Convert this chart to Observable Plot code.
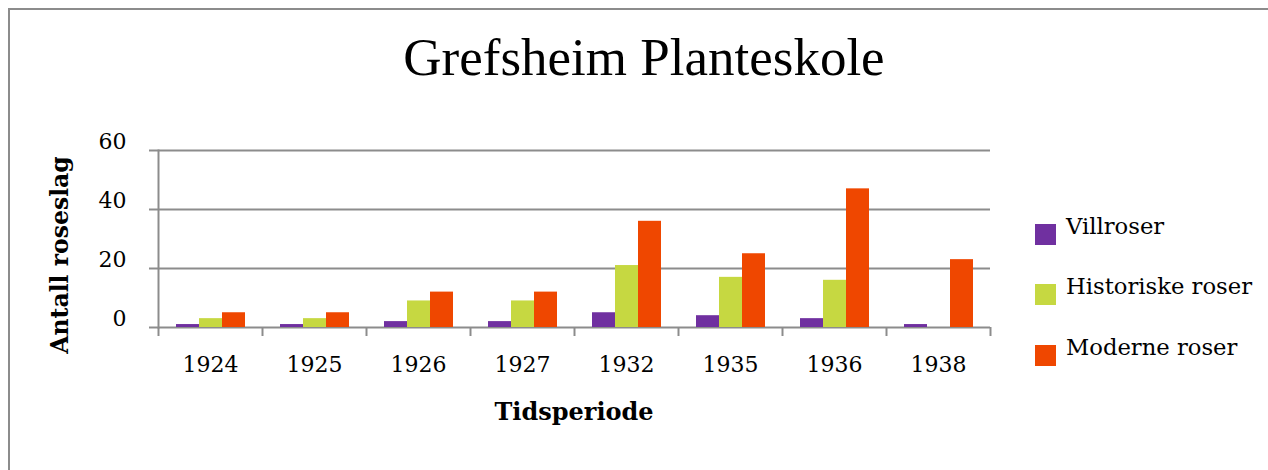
<!DOCTYPE html>
<html>
<head>
<meta charset="utf-8">
<script src="https://cdn.jsdelivr.net/npm/d3@7"></script>
<script src="https://cdn.jsdelivr.net/npm/@observablehq/plot@0.6"></script>
<style>
  html, body { margin: 0; padding: 0; background: #fff; }
  #wrap { position: relative; width: 1268px; height: 470px; overflow: hidden; background: #fff; }
  #border { position: absolute; left: 8px; top: 8px; width: 1400px; height: 600px;
            border-left: 2px solid #8c8c8c; border-top: 2px solid #8c8c8c; }
  #chart { position: absolute; left: 0; top: 0; }
  .txt { position: absolute; white-space: nowrap; color: #000; }
  #title { left: 0; width: 1288px; top: 31px; text-align: center;
           font-family: "Liberation Serif", serif; font-size: 53px; line-height: 53px; }
  #ylabel { left: 61px; top: 255px; transform: translate(-50%, -50%) rotate(-90deg);
            font-family: "DejaVu Serif", serif; font-weight: bold; font-size: 23.5px; line-height: 23.5px; }
  #xlabel { left: 574px; top: 400px; transform: translateX(-50%);
            font-family: "DejaVu Serif", serif; font-weight: bold; font-size: 24px; line-height: 24px; }
  .sw { position: absolute; width: 21px; height: 21px; left: 1035px; }
  .lt { left: 1066px; font-family: "DejaVu Serif", serif; font-size: 22.7px; line-height: 22.7px; }
</style>
</head>
<body>
<div id="wrap">
  <div id="border"></div>
  <div id="chart"></div>
  <div id="title" class="txt">Grefsheim Planteskole</div>
  <div id="ylabel" class="txt">Antall roseslag</div>
  <div id="xlabel" class="txt">Tidsperiode</div>
  <div id="legend"></div>
</div>
<script>
// ---- data ----
const years = ["1924", "1925", "1926", "1927", "1932", "1935", "1936", "1938"];
const seriesNames = ["Villroser", "Historiske roser", "Moderne roser"];
const villroser   = [1, 1, 2, 2, 5, 4, 3, 1];
const historiske  = [3, 3, 9, 9, 21, 17, 16, 0];
const moderne     = [5, 5, 12, 12, 36, 25, 47, 23];
const yTicks = [0, 20, 40, 60];
const colors = ["#7030a0", "#c6d841", "#ef4700"];

const seriesValues = [villroser, historiske, moderne];
const data = [];
years.forEach((yr, i) => {
  seriesNames.forEach((s, j) => data.push({year: yr, series: s, value: seriesValues[j][i]}));
});

const gray = "#8c8c8c";

const plot = Plot.plot({
  width: 1268,
  height: 470,
  marginTop: 150,
  marginBottom: 143,
  marginLeft: 157,
  marginRight: 278,
  style: {background: "transparent", fontFamily: "DejaVu Serif", fontSize: "22px", color: "#000"},
  fx: {domain: years, padding: 0, axis: null, label: null},
  x: {domain: seriesNames, paddingInner: 0, paddingOuter: 0.75, axis: null},
  y: {domain: [0, 60], axis: null},
  color: {domain: seriesNames, range: colors},
  marks: [
    Plot.gridY(yTicks, {stroke: gray, strokeOpacity: 1, strokeWidth: 2}),
    Plot.frame({anchor: "left", facetAnchor: "left", stroke: gray, strokeWidth: 2}),
    Plot.axisY(yTicks, {anchor: "left", tickSize: 9, text: null, label: null, stroke: gray, strokeWidth: 2, strokeOpacity: 1}),
    Plot.axisY(yTicks, {anchor: "left", tickSize: 0, tickPadding: 32, dy: -9, label: null, fill: "#000"}),
    Plot.barY(data, {fx: "year", x: "series", y: "value", fill: "series"}),
    Plot.axisFx({anchor: "bottom", tickSize: 0, tickPadding: 29, label: null, fill: "#000"}),
    Plot.axisFx({anchor: "bottom", tickSize: 9, text: null, label: null, dx: -52, stroke: gray, strokeWidth: 2, strokeOpacity: 1}),
    Plot.axisFx({anchor: "bottom", ticks: [years[years.length - 1]], tickSize: 9, text: null, label: null, dx: 52, stroke: gray, strokeWidth: 2, strokeOpacity: 1})
  ]
});
document.getElementById("chart").appendChild(plot);

// ---- legend ----
const legend = document.getElementById("legend");
const swTops = [224, 284, 345];
seriesNames.forEach((s, j) => {
  const sw = document.createElement("div");
  sw.className = "sw";
  sw.style.top = swTops[j] + "px";
  sw.style.background = colors[j];
  legend.appendChild(sw);
  const t = document.createElement("div");
  t.className = "txt lt";
  t.style.top = (swTops[j] - 9) + "px";
  t.textContent = s;
  legend.appendChild(t);
});
</script>
</body>
</html>
